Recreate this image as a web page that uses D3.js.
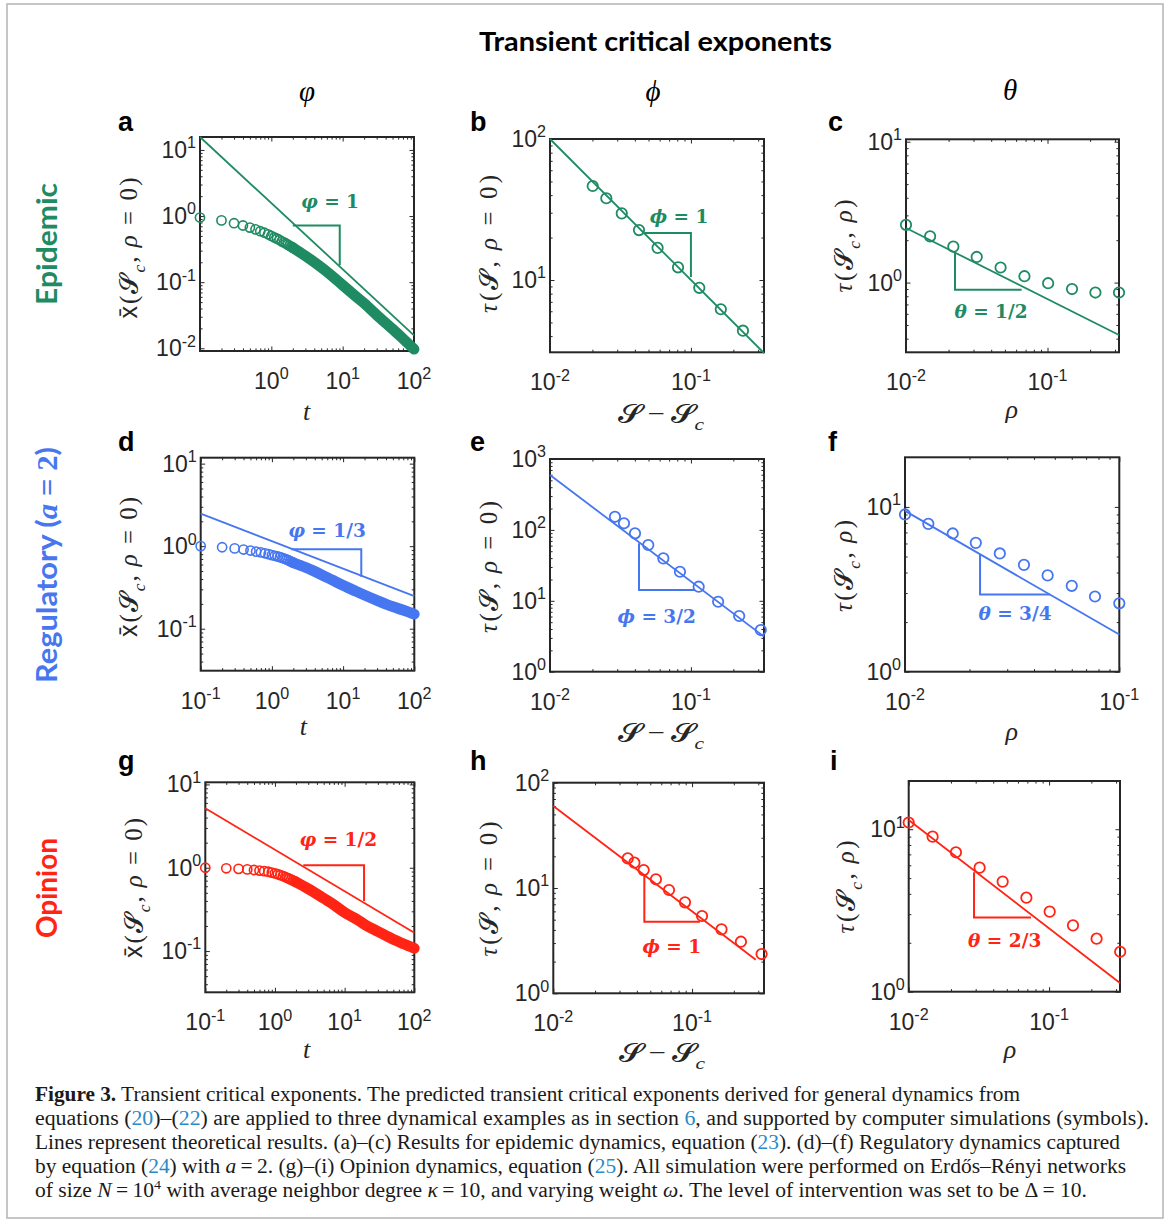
<!DOCTYPE html>
<html><head><meta charset="utf-8">
<script src="https://cdn.jsdelivr.net/npm/d3@7"></script>
<style>body{margin:0;background:#fff}svg{display:block}</style>
</head><body>
<svg id="c" width="1167" height="1223"></svg>
<script>
// ---------------- DATA ----------------
const timeCircles = [0.1,0.2,0.3,0.4,0.5,0.6,0.7,0.8,0.9,1.0,1.1,1.2,1.3,1.4,1.5,1.6,1.7,1.8,1.9,2.0];
const epidemicCircles = [0.95,0.86,0.78,0.72,0.67,0.63,0.59,0.56,0.53,0.50,0.475,0.455,0.435,0.415,0.40,0.385,0.37,0.355,0.345,0.333];
const regulatoryCircles = [1.0,0.97,0.94,0.91,0.885,0.86,0.84,0.82,0.80,0.78,0.765,0.75,0.735,0.72,0.705,0.69,0.675,0.66,0.645,0.63];
const opinionCircles = [1.0,0.985,0.97,0.955,0.94,0.925,0.91,0.895,0.875,0.855,0.835,0.815,0.795,0.775,0.755,0.74,0.72,0.705,0.69,0.675];
const bandTimes = [2,3,5,7,10,15,20,30,50,70,100];
const epidemicBand = [0.333,0.25,0.168,0.126,0.09,0.062,0.048,0.032,0.0195,0.014,0.0097];
const regulatoryBand = [0.63,0.55,0.45,0.39,0.335,0.285,0.255,0.22,0.185,0.168,0.15];
const opinionBand = [0.675,0.56,0.43,0.36,0.29,0.24,0.205,0.172,0.138,0.122,0.108];

// panel b, e, h: tau vs S - Sc
const bS = [0.0201,0.0251,0.0323,0.0428,0.058,0.081,0.1146,0.163,0.234];
const bTau = [46.4,38,29.7,22.6,16.9,12.3,8.8,6.2,4.37];
const eS = [0.0289,0.0335,0.0401,0.0498,0.0637,0.0836,0.1135,0.156,0.220,0.313];
const eTau = [153,124,89.5,61.2,39.7,25.7,15.8,9.7,6.1,3.87];
const hS = [0.0344,0.0384,0.0448,0.0549,0.0682,0.0889,0.118,0.163,0.225,0.317];
const hTau = [19.1,17.4,14.8,12.1,9.57,7.31,5.42,4.05,3.09,2.36];

// panel c, f, i: tau vs rho
const cRho = [0.01,0.0148,0.0216,0.0316,0.0466,0.0687,0.101,0.149,0.218,0.32];
const cTau = [2.57,2.13,1.80,1.52,1.28,1.11,0.99,0.90,0.85,0.85];
const fRho = [0.01,0.01285,0.0167,0.0214,0.0277,0.0359,0.0463,0.060,0.077,0.1];
const fTau = [9.0,7.89,6.90,6.05,5.22,4.45,3.84,3.32,2.86,2.60];
const iRho = [0.01,0.0148,0.0217,0.032,0.0467,0.0689,0.101,0.148,0.218,0.321];
const iTau = [11.0,9.0,7.21,5.80,4.76,3.79,3.11,2.56,2.12,1.76];

// theoretical lines (endpoints)
const aLineX = [0.1,100],  aLineY = [15.7,0.0157];
const bLineX = [0.01,0.33], bLineY = [100,3.03];
const cLineX = [0.01,0.32], cLineY = [2.44,0.425];
const dLineX = [0.1,100],  dLineY = [2.48,0.248];
const eLineX = [0.01,0.33], eLineY = [594,3.13];
const fLineX = [0.01,0.1],  fLineY = [9.46,1.68];
const gLineX = [0.1,100],  gLineY = [5.17,0.166];
const hLineX = [0.01,0.288], hLineY = [60,2.08];
const iLineX = [0.01,0.32], iLineY = [11.4,1.13];

// slope triangles [x1,x2], [yTop,yBottom]
const aTriX = [2.0,9.1],    aTriY = [0.72,0.181];
const bTriX = [0.047,0.1],  bTriY = [21.5,10.5];
const cTriX = [0.0222,0.0656], cTriY = [1.66,0.889];
const dTriX = [1.87,18],    dTriY = [0.92,0.425];
const eTriX = [0.0428,0.107], eTriY = [64.7,14.2];
const fTriX = [0.0224,0.0475], fTriY = [5.15,2.94];
const gTriX = [2.55,19],    gTriY = [1.07,0.40];
const hTriX = [0.0453,0.114], hTriY = [13.0,4.79];
const iTriX = [0.0292,0.0743], iTriY = [5.43,2.86];

// tick values
const tTicks = [0.1,1,10,100];
const tTicksA = [1,10,100];
const sTicks = [0.01,0.1];
const yTicksA = [0.01,0.1,1,10];
const yTicksDG = [0.1,1,10];
const yTicksB = [10,100];
const yTicksE = [1,10,100,1000];
const yTicksH = [1,10,100];
const yTicksCFI = [1,10];

const green = "#1f8b63", blue = "#4676f0", red = "#ff2414";

// ---------------- DRAW ----------------
const svg = d3.select("#c");
const SANS = "'Liberation Sans', Arial, sans-serif";
const SERIF = "'Liberation Serif', 'Times New Roman', serif";
const DSERIF = "'DejaVu Serif', serif";
const SCRIPT = "\u{1D4E2}";
const SCRIPTFF = "'DejaVu Sans', 'DejaVu Serif', serif";
const AX = "#262626";
const TICKFS = 23;

svg.append("rect").attr("x",7).attr("y",4).attr("width",1156).attr("height",1214)
  .attr("fill","#fff").attr("stroke","#b4b4b4").attr("stroke-width",1.5);

function rich(sel, segs, base){
  let shift = 0;
  segs.forEach(s => {
    const str = s[0], o = s[1] || {};
    const ts = sel.append("tspan").text(str);
    const target = o.sub ? base*0.3 : (o.sup ? -base*0.42 : 0);
    if (target !== shift){ ts.attr("dy", target - shift); shift = target; }
    if (o.sub || o.sup) ts.attr("font-size", base*(o.scale||0.7));
    if (o.i) ts.attr("font-style","italic");
    if (o.b) ts.attr("font-weight","bold");
    if (o.ff) ts.attr("font-family", o.ff);
    if (o.fill) ts.attr("fill", o.fill);
  });
}

function minor(domain){
  const out = [];
  const lo = Math.floor(Math.log10(domain[0])), hi = Math.ceil(Math.log10(domain[1]));
  for (let e = lo; e <= hi; e++) for (let m = 2; m <= 9; m++){
    const v = m*Math.pow(10,e);
    if (v > domain[0] && v < domain[1]) out.push(v);
  }
  return out;
}
function expOf(v){ return String(Math.round(Math.log10(v))); }

const labS = (sub) => sub ? [[SCRIPT,{ff:SCRIPTFF}],["c",{sub:1,i:1,ff:SERIF}]] : [[SCRIPT,{ff:SCRIPTFF}]];
const yLabX = [["x\u0304",{ff:SANS}],["("]].concat(labS(true),[[",\u2009"],["\u03C1",{i:1}],[" = 0)"]]);
const yLabTau0 = [["\u03C4",{i:1}],["("]].concat(labS(false),[[",\u2009"],["\u03C1",{i:1}],[" = 0)"]]);
const yLabTauR = [["\u03C4",{i:1}],["("]].concat(labS(true),[[",\u2009"],["\u03C1",{i:1}],[")"]]);
const xLabT = [["t",{i:1}]];
const xLabS = labS(false).concat([["\u2009\u2212\u2009"]], labS(true));
const xLabR = [["\u03C1",{i:1}]];

const panels = [
 {L:"a", lp:[118,131], box:[200,137,414,351], xd:[0.1,100], yd:[0.0091,15.7], xt:tTicksA, yt:yTicksA, col:green,
  kind:"time", circ:epidemicCircles, band:epidemicBand, lx:aLineX, ly:aLineY, tx:aTriX, ty:aTriY, tri:"upper",
  ex:[["\u03C6",{i:1}],[" = 1"]], ep:[330,207.5], xl:xLabT, xlp:[306.7,420], yl:yLabX, ylp:[130,248], ylen:141},
 {L:"b", lp:[470,131], box:[550,139,764,352.3], xd:[0.01,0.33], yd:[3.07,100], xt:sTicks, yt:yTicksB, col:green,
  kind:"pts", px:bS, py:bTau, lx:bLineX, ly:bLineY, tx:bTriX, ty:bTriY, tri:"upper",
  ex:[["\u03D5",{i:1}],[" = 1"]], ep:[679,222.7], xl:xLabS, xlp:[661,422], yl:yLabTau0, ylp:[490,244], ylen:138},
 {L:"c", lp:[828,131], box:[906,139.3,1119,352.3], xd:[0.01,0.32], yd:[0.32,10.4], xt:sTicks, yt:yTicksCFI, col:green,
  kind:"pts", px:cRho, py:cTau, lx:cLineX, ly:cLineY, tx:cTriX, ty:cTriY, tri:"lower",
  ex:[["\u03B8",{i:1}],[" = 1/2"]], ep:[991,318], xl:xLabR, xlp:[1011.7,418], yl:yLabTauR, ylp:[845,246], ylen:93},
 {L:"d", lp:[118,451], box:[200.7,457.7,414.3,670.7], xd:[0.1,100], yd:[0.031,11.8], xt:tTicks, yt:yTicksDG, col:blue,
  kind:"time", circ:regulatoryCircles, band:regulatoryBand, lx:dLineX, ly:dLineY, tx:dTriX, ty:dTriY, tri:"upper",
  ex:[["\u03C6",{i:1}],[" = 1/3"]], ep:[327,537], xl:xLabT, xlp:[303.3,735], yl:yLabX, ylp:[130,567], ylen:140},
 {L:"e", lp:[470,451], box:[550,459,764,671.7], xd:[0.01,0.33], yd:[1,1000], xt:sTicks, yt:yTicksE, col:blue,
  kind:"pts", px:eS, py:eTau, lx:eLineX, ly:eLineY, tx:eTriX, ty:eTriY, tri:"lower",
  ex:[["\u03D5",{i:1}],[" = 3/2"]], ep:[656.7,623], xl:xLabS, xlp:[661,741], yl:yLabTau0, ylp:[490,567], ylen:132},
 {L:"f", lp:[828,451], box:[905,457.3,1119.3,671.7], xd:[0.01,0.1], yd:[1,20], xt:sTicks, yt:yTicksCFI, col:blue,
  kind:"pts", px:fRho, py:fTau, lx:fLineX, ly:fLineY, tx:fTriX, ty:fTriY, tri:"lower",
  ex:[["\u03B8",{i:1}],[" = 3/4"]], ep:[1015,620], xl:xLabR, xlp:[1011.7,740], yl:yLabTauR, ylp:[845,566], ylen:92},
 {L:"g", lp:[118,770], box:[205.3,782.3,414.3,992.3], xd:[0.1,100], yd:[0.032,10.6], xt:tTicks, yt:yTicksDG, col:red,
  kind:"time", circ:opinionCircles, band:opinionBand, lx:gLineX, ly:gLineY, tx:gTriX, ty:gTriY, tri:"upper",
  ex:[["\u03C6",{i:1}],[" = 1/2"]], ep:[338.3,846], xl:xLabT, xlp:[306.7,1058], yl:yLabX, ylp:[135,888], ylen:140},
 {L:"h", lp:[470,770], box:[553.3,782.7,764,993.3], xd:[0.01,0.33], yd:[1,100], xt:sTicks, yt:yTicksH, col:red,
  kind:"pts", px:hS, py:hTau, lx:hLineX, ly:hLineY, tx:hTriX, ty:hTriY, tri:"lower",
  ex:[["\u03D5",{i:1}],[" = 1"]], ep:[671.8,953], xl:xLabS, xlp:[662,1061], yl:yLabTau0, ylp:[490,889], ylen:135},
 {L:"i", lp:[830,770], box:[908.7,781,1120,991.7], xd:[0.01,0.32], yd:[1,19.8], xt:sTicks, yt:yTicksCFI, col:red,
  kind:"pts", px:iRho, py:iTau, lx:iLineX, ly:iLineY, tx:iTriX, ty:iTriY, tri:"lower",
  ex:[["\u03B8",{i:1}],[" = 2/3"]], ep:[1004.7,946.5], xl:xLabR, xlp:[1010,1058], yl:yLabTauR, ylp:[847,887], ylen:93}
];

const R = 4.6, SW = 1.6;

panels.forEach(p => {
  const [x0,y0,x1,y1] = p.box;
  const x = d3.scaleLog().domain(p.xd).range([x0,x1]);
  const y = d3.scaleLog().domain(p.yd).range([y1,y0]);
  const g = svg.append("g");

  // ticks (inward, all four sides)
  const sides = [[d3.axisBottom,x,`translate(0,${y1})`,p.xt,p.xd],[d3.axisTop,x,`translate(0,${y0})`,p.xt,p.xd],
                 [d3.axisLeft,y,`translate(${x0},0)`,p.yt,p.yd],[d3.axisRight,y,`translate(${x1},0)`,p.yt,p.yd]];
  sides.forEach(([fn,sc,tr,maj,dom]) => {
    const a1 = g.append("g").attr("transform",tr).attr("color",AX)
      .call(fn(sc).tickValues(maj.filter(v => v>=dom[0]*0.999 && v<=dom[1]*1.001)).tickSize(-4.5).tickFormat(""));
    a1.select(".domain").remove();
    const a2 = g.append("g").attr("transform",tr).attr("color",AX)
      .call(fn(sc).tickValues(minor(dom)).tickSize(-2.6).tickFormat(""));
    a2.select(".domain").remove();
  });
  g.selectAll(".tick line").attr("stroke-width",1);

  // box
  g.append("rect").attr("x",x0).attr("y",y0).attr("width",x1-x0).attr("height",y1-y0)
    .attr("fill","none").attr("stroke",AX).attr("stroke-width",2);

  // tick labels
  p.xt.forEach(v => {
    const t = g.append("text").attr("x",x(v)).attr("y",y1+38).attr("text-anchor","middle")
      .attr("font-family",SANS).attr("font-size",TICKFS).attr("fill",AX);
    rich(t, [["10"],[expOf(v),{sup:1,scale:0.7}]], TICKFS);
  });
  p.yt.forEach(v => {
    const t = g.append("text").attr("x",x0-4).attr("y",y(v)+8).attr("text-anchor","end")
      .attr("font-family",SANS).attr("font-size",TICKFS).attr("fill",AX);
    rich(t, [["10"],[expOf(v),{sup:1,scale:0.7}]], TICKFS);
  });

  // theory line
  const lineData = p.lx.map((v,k) => [v, p.ly[k]]);
  g.append("path").attr("d", d3.line().x(d => x(d[0])).y(d => y(d[1]))(lineData))
    .attr("fill","none").attr("stroke",p.col).attr("stroke-width",1.8);

  // slope triangle
  const [tx1,tx2] = p.tx, [tyA,tyB] = p.ty;
  const triPts = p.tri === "upper" ? [[tx1,tyA],[tx2,tyA],[tx2,tyB]] : [[tx1,tyA],[tx1,tyB],[tx2,tyB]];
  g.append("path").attr("d", d3.line().x(d => x(d[0])).y(d => y(d[1]))(triPts))
    .attr("fill","none").attr("stroke",p.col).attr("stroke-width",2);

  // simulation markers
  if (p.kind === "time"){
    const bandData = bandTimes.map((t,k) => [t, p.band[k]]);
    g.append("path").attr("d", d3.line().curve(d3.curveMonotoneX).x(d => x(d[0])).y(d => y(d[1]))(bandData))
      .attr("fill","none").attr("stroke",p.col).attr("stroke-width",2*R+SW).attr("stroke-linecap","round").attr("stroke-linejoin","round");
    g.selectAll(null).data(timeCircles.map((t,k) => [t, p.circ[k]])).enter().append("circle")
      .attr("cx", d => x(d[0])).attr("cy", d => y(d[1])).attr("r",R)
      .attr("fill","none").attr("stroke",p.col).attr("stroke-width",SW);
  } else {
    g.selectAll(null).data(p.px.map((v,k) => [v, p.py[k]])).enter().append("circle")
      .attr("cx", d => x(d[0])).attr("cy", d => y(d[1])).attr("r",R+0.6)
      .attr("fill","none").attr("stroke",p.col).attr("stroke-width",SW+0.2);
  }

  // exponent label
  const et = g.append("text").attr("x",p.ep[0]).attr("y",p.ep[1]).attr("text-anchor","middle")
    .attr("font-family",DSERIF).attr("font-weight","bold").attr("font-size",18.5).attr("fill",p.col);
  rich(et, p.ex, 18.5);

  // axis labels
  const xfs = p.xl === xLabS ? 25 : 26;
  const xt = g.append("text").attr("x",p.xlp[0]).attr("y",p.xlp[1]).attr("text-anchor","middle")
    .attr("font-family",SERIF).attr("font-size",xfs).attr("fill",AX);
  if (p.xl === xLabS) xt.attr("textLength",86).attr("lengthAdjust","spacingAndGlyphs");
  rich(xt, p.xl, xfs);
  const yt = g.append("text").attr("transform",`translate(${p.ylp[0]+7},${p.ylp[1]}) rotate(-90)`)
    .attr("text-anchor","middle").attr("font-family",SERIF).attr("font-size",25).attr("fill",AX)
    .attr("textLength",p.ylen).attr("lengthAdjust","spacing");
  rich(yt, p.yl, 25);

  // panel letter
  g.append("text").attr("x",p.lp[0]).attr("y",p.lp[1]).attr("font-family",SANS).attr("font-weight","bold")
    .attr("font-size",27).attr("fill","#000").text(p.L);
});

// title & column headers
svg.append("text").attr("x",655.5).attr("y",51).attr("text-anchor","middle").attr("font-family","Lato, sans-serif")
  .attr("font-weight","bold").attr("font-size",27).attr("fill","#000")
  .attr("textLength",353).attr("lengthAdjust","spacingAndGlyphs").text("Transient critical exponents");
[["\u03C6",307,101],["\u03D5",653,101],["\u03B8",1010,100]].forEach(([s,cx,cy]) => {
  svg.append("text").attr("x",cx).attr("y",cy).attr("text-anchor","middle").attr("font-family",SERIF)
    .attr("font-style","italic").attr("font-size",29).attr("fill","#000").text(s);
});

// row labels
const rowLabels = [
  {segs:[["Epidemic"]], c:green, y:244, w:122},
  {segs:[["Regulatory ("],["a",{ff:SERIF,i:1}],[" = 2",{ff:SERIF}],[")"]], c:blue, y:565, w:236},
  {segs:[["Opinion"]], c:red, y:888, w:100}
];
rowLabels.forEach(r => {
  const t = svg.append("text").attr("transform",`translate(56.5,${r.y}) rotate(-90)`).attr("text-anchor","middle")
    .attr("font-family","Lato, sans-serif").attr("font-weight","bold").attr("font-size",29).attr("fill",r.c)
    .attr("textLength",r.w).attr("lengthAdjust","spacingAndGlyphs");
  rich(t, r.segs, 29);
});

// caption
const LINK = "#2b8ac6";
const capLines = [
  {w:985, segs:[["Figure 3.",{b:1}],[" Transient critical exponents. The predicted transient critical exponents derived for general dynamics from"]]},
  {w:1114, segs:[["equations ("],["20",{fill:LINK}],[")\u2013("],["22",{fill:LINK}],[") are applied to three dynamical examples as in section "],["6",{fill:LINK}],[", and supported by computer simulations (symbols)."]]},
  {w:1085, segs:[["Lines represent theoretical results. (a)\u2013(c) Results for epidemic dynamics, equation ("],["23",{fill:LINK}],["). (d)\u2013(f) Regulatory dynamics captured"]]},
  {w:1091, segs:[["by equation ("],["24",{fill:LINK}],[") with "],["a",{i:1}],["\u2009=\u20092. (g)\u2013(i) Opinion dynamics, equation ("],["25",{fill:LINK}],["). All simulation were performed on Erd\u0151s\u2013R\u00e9nyi networks"]]},
  {w:1052, segs:[["of size "],["N",{i:1}],["\u2009=\u200910"],["4",{sup:1,scale:0.65}],[" with average neighbor degree "],["\u03BA",{i:1}],["\u2009=\u200910, and varying weight "],["\u03C9",{i:1}],[". The level of intervention was set to be \u0394 = 10."]]}
];
capLines.forEach((l,k) => {
  const t = svg.append("text").attr("x",35).attr("y",1101 + k*24).attr("font-family",SERIF).attr("font-size",20)
    .attr("fill","#1a1a1a").attr("textLength",l.w).attr("lengthAdjust","spacingAndGlyphs");
  rich(t, l.segs, 20);
});
</script>
</body></html>
